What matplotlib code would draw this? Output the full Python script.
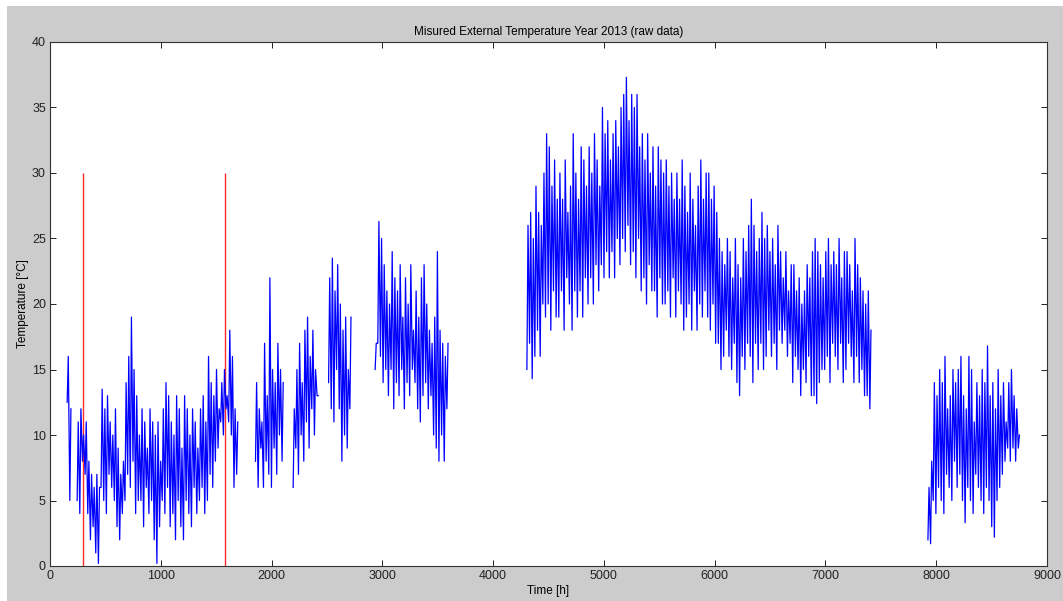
import numpy as np
import matplotlib
matplotlib.use('Agg')
import matplotlib.pyplot as plt
from matplotlib.patches import Rectangle

plt.rcParams['font.family'] = ['Liberation Sans', 'DejaVu Sans']

# measured series, read off the chart as daily min / max per data block
# (start hour of each block, then one value per day)
seg0_start = 150
seg0_min = [12.5, 5]
seg0_max = [16, 12]

seg1_start = 240
seg1_max = [11, 12, 10, 11, 8, 7, 6, 7, 6, 13.5, 12, 13, 11, 10, 12, 9, 7, 8,
            14, 16, 19, 15, 13, 10, 12, 11, 9, 12, 11, 10, 11, 8, 12, 14, 13, 11,
            10, 13, 12, 9, 13, 12, 10, 12, 11, 9, 12, 13, 11, 16, 14, 13, 15,
            12, 14, 15, 13, 18, 16, 12, 11]
seg1_min = [5, 4, 8, 7, 4, 2, 3, 1, 0.2, 6, 5, 4, 7, 6, 5, 3, 2, 4,
            5, 7, 6, 8, 4, 5, 5, 3, 6, 4, 5, 2, 0.2, 3, 5, 4, 6, 3,
            4, 2, 5, 3, 2, 5, 4, 3, 6, 4, 5, 6, 4, 5, 7, 6, 8,
            9, 11, 10, 12, 11, 10, 6, 7]

seg2a_start = 1850
seg2a_max = [14, 12, 11, 17, 13, 22, 15, 14, 17, 15, 14]
seg2a_min = [8, 6, 9, 6, 8, 7, 6, 9, 7, 10, 8]

seg2b_start = 2190
seg2b_max = [12, 15, 17, 14, 18, 19, 16, 18, 15, 13]
seg2b_min = [6, 9, 7, 10, 8, 11, 9, 12, 10, 13]

seg2c_start = 2510
seg2c_max = [22, 23.5, 21, 23, 20, 18, 19, 15, 19]
seg2c_min = [14, 12, 11, 15, 12, 8, 10, 9, 12]

seg3_start = 2930
seg3_max = [17, 26.3, 25, 23, 21, 20, 24, 22, 21, 23, 19, 22, 20, 23, 18, 21,
            19, 22, 23, 20, 18, 17, 19, 24, 18, 17, 16, 17]
seg3_min = [15, 17, 16, 14, 15, 13, 15, 12, 14, 13, 15, 12, 14, 13, 15, 14,
            12, 11, 13, 14, 12, 13, 10, 9, 8, 10, 8, 12]

seg4_start = 4300
seg4_max = [26, 27, 25, 29, 27, 26, 30, 33, 32, 29, 31, 28, 30, 28, 31, 27,
            29, 33, 30, 28, 32, 31, 29, 32, 30, 33, 31, 29, 35, 33, 34, 31,
            33, 34, 32, 35, 36, 37.3, 34, 36, 35, 36, 32, 33, 31, 33, 30, 32,
            29, 32, 31, 30, 31, 29, 30, 28, 30, 28, 31, 29, 27, 30, 28, 26,
            29, 31, 28, 30, 30, 28, 29, 27, 25, 24, 23, 25, 24, 22, 25, 23,
            22, 25, 24, 26, 28, 26, 24, 25, 27, 25, 26, 24, 25, 23, 26, 24,
            22, 24, 21, 23, 23, 21, 22, 20, 21, 23, 22, 24, 25, 24, 23, 22,
            24, 25, 23, 24, 23, 25, 22, 24, 24, 23, 21, 25, 23, 22, 21, 20,
            21, 18]
seg4_min = [15, 17, 14.3, 16, 18, 16, 20, 19, 20, 18, 21, 19, 19, 21, 18, 22,
            20, 18, 21, 19, 21, 19, 22, 20, 22, 20, 23, 21, 23, 22, 24, 22,
            24, 22, 25, 23, 25, 24, 26, 23, 24, 22, 25, 21, 22, 20, 23, 21,
            21, 19, 22, 20, 20, 21, 19, 22, 19, 21, 20, 18, 19, 20, 18, 21,
            18, 20, 19, 21, 19, 18, 20, 17, 17, 15, 16, 18, 16, 15, 17, 14,
            13, 16, 15, 17, 16, 14, 17, 15, 17, 15, 16, 18, 16, 17, 15, 18,
            17, 18, 16, 17, 14, 16, 15, 13, 15, 14, 16, 13, 13, 12.4, 14, 15,
            15, 16, 14, 17, 16, 15, 17, 14, 15, 17, 16, 14, 16, 14, 15, 13,
            13, 12]

seg5_start = 7920
seg5_max = [6, 8, 14, 13, 15, 14, 16, 12, 13, 15, 14, 15, 16, 13, 12, 16,
            15, 11, 14, 13, 15, 14, 16.8, 13, 14, 12, 15, 13, 14, 11, 14, 15,
            13, 12, 10]
seg5_min = [2, 1.7, 5, 4, 6, 5, 4, 7, 6, 5, 8, 6, 7, 5, 3.3, 6,
            5, 4, 7, 6, 5, 4, 6, 5, 3, 2.2, 5, 6, 7, 8, 9, 8,
            9, 8, 9]

# red markers
marker_hours = [300, 1582]
marker_top = 30

blocks = [(seg0_start, seg0_min, seg0_max),
          (seg1_start, seg1_min, seg1_max),
          (seg2a_start, seg2a_min, seg2a_max),
          (seg2b_start, seg2b_min, seg2b_max),
          (seg2c_start, seg2c_min, seg2c_max),
          (seg3_start, seg3_min, seg3_max),
          (seg4_start, seg4_min, seg4_max),
          (seg5_start, seg5_min, seg5_max)]

# zigzag: daily minimum early morning, maximum mid afternoon, NaN between blocks
xs, ys = [], []
for start, mins, maxs in blocks:
    for d, (lo, hi) in enumerate(zip(mins, maxs)):
        xs += [start + 24 * d + 5, start + 24 * d + 15]
        ys += [lo, hi]
    xs.append(np.nan)
    ys.append(np.nan)

fig = plt.figure(figsize=(10.63, 6.01), dpi=100, facecolor='white')
fig.patches.append(Rectangle((7 / 1063, 0), 1 - 7 / 1063, 1 - 6 / 601,
                             transform=fig.transFigure, facecolor='#cccccc',
                             edgecolor='none', zorder=-10))

ax = fig.add_axes([50 / 1063, 35 / 601, 997 / 1063, 524 / 601])
ax.vlines(marker_hours, 0, marker_top, color='#ff2a2a', lw=1.0, zorder=1)
ax.plot(xs, ys, color='#0000ff', lw=0.9, zorder=2)

ax.set_xlim(0, 9000)
ax.set_ylim(0, 40)
ax.set_xticks(np.arange(0, 9001, 1000))
ax.set_yticks(np.arange(0, 41, 5))
ax.tick_params(direction='in', top=True, right=True, length=4, width=0.7,
               labelsize=9, colors='#222222', pad=3)
for s in ax.spines.values():
    s.set_color('#333333')
    s.set_linewidth(0.8)

ax.set_title('Misured External Temperature Year 2013 (raw data)', fontsize=8.5, pad=5)
ax.set_xlabel('Time [h]', fontsize=8.5, labelpad=2)
ax.set_ylabel('Temperature [°C]', fontsize=8.5, labelpad=2)

fig.savefig('out.png', dpi=100, facecolor=fig.get_facecolor())
